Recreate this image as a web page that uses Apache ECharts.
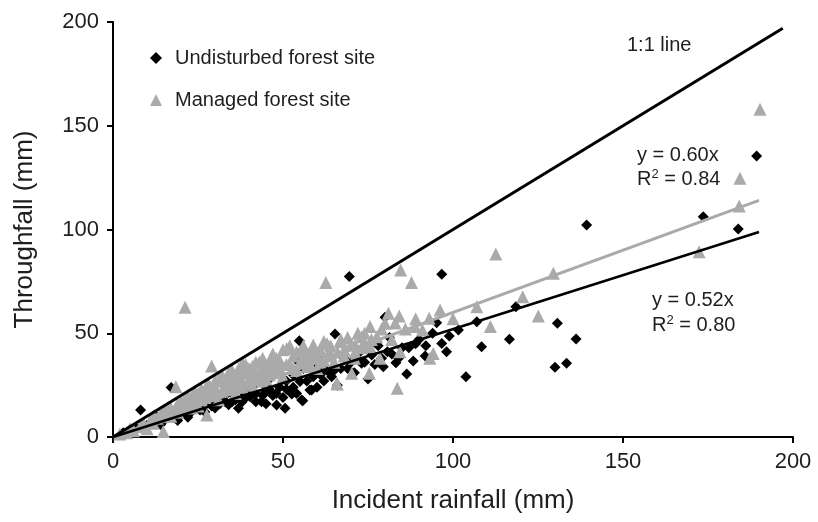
<!DOCTYPE html>
<html>
<head>
<meta charset="utf-8">
<script src="https://cdn.jsdelivr.net/npm/echarts@6/dist/echarts.min.js"></script>
<style>html,body{margin:0;padding:0;background:#fff}#c{width:818px;height:522px}</style>
</head>
<body>
<div id="c"></div>
<script>
var xTicks = [0, 50, 100, 150, 200];
var yTicks = [0, 50, 100, 150, 200];

var undisturbed = [
[8.1,13],[17.1,23.9],[12.9,9.8],[3,2],[5,3.5],[7,4],[10,5.5],[11,7],[14,6],[15,8],[16,9.5],[18,10],[19,8],[20,11],[21,13],[22,9.5],[23,12],[24,14],[25.6,13],[26,16],[27,12],[28,17],[29,15],[30,14],[31.5,16.2],[32,18],[33,20],[34,15.5],[35,21],[36,18],[36.9,13.8],[36.9,30.7],[38,22],[39,19],[40.3,19.4],[41,24],[42,21],[43.7,17],[44,26],[45,22],[46,28],[47,20],[48.1,15.4],[49,24],[50.6,13.8],[51,27],[52.6,20.7],[53,30],[54,37.1],[54.8,46.4],[55,26.7],[55.5,17.8],[55.8,17.5],[56,33],[57.9,22.6],[58.4,22.6],[58.9,29],[59,35],[60.9,37.1],[62,27],[63.8,30.7],[64.3,29],[65.3,49.6],[66,25],[67,33],[68,38],[69.5,77.3],[70,36],[72,40],[73.1,35.5],[75,28],[76.1,39.5],[78,44],[79.5,33.9],[80,57.7],[80.7,41.1],[81.3,48],[83.2,35.8],[85,43],[86.4,30.4],[88.3,36.6],[90,47],[91.8,39],[95.2,55.1],[96.7,45.1],[96.7,78.4],[98.1,41.1],[98.9,48.7],[101.6,51.6],[103.8,29],[107,55.6],[108.4,43.5],[116.6,47.1],[118.5,62.8],[130.7,54.8],[136.2,47.2],[130,33.6],[133.4,35.5],[139.3,102.2],[173.6,106.2],[183.9,100.2],[189.3,135.4],
[30,18],[33,17],[35,17],[38,17],[40,22],[42,17],[44,20],[45,16],[46,23],[48,21],[50,19],[51,23],[53,24],[54,21],[57,27],[60,24],[61,30],[62,33],[65,32],[69,33],[71,31],[74,36],[77,35],[79,38],[82,40],[84,38],[87,43],[89,45],[92,44],[94,50]
];

var managed = [
[2,1.5],[4,2],[5,4],[6,3],[8,5],[9,6.5],[10,4],[11,8],[11.9,6.6],[13,9],[14,11],[14.8,2.6],[15,13],[16,10],[17,14],[18,12],[18.5,24.2],[18.7,13],[19,16],[20,14],[21.2,62.5],[21,18],[22,15],[23,19],[24,17],[25,21],[25.6,18.6],[26,23],[27,19],[27.6,24.6],[27.6,10.6],[28,26],[29,34.2],[29,21],[30,24],[31,28],[32,22],[33,27],[33.4,28.3],[34,31],[35,25],[36,29],[37,33],[38,27],[38.1,35.5],[39,31],[40,28],[41,34],[42,30],[43,36],[44,32],[45,28],[46,35],[46.2,37.1],[47,31],[48,38],[49,33],[50,29],[51.1,42.7],[52,35],[53,39],[54,32],[55,41],[56,37],[56.5,41.1],[57,34],[58,40],[58.9,44.3],[59,38],[60,33],[61,42],[62,37],[62.6,74.4],[63,45],[64,40],[65,36],[65.8,25.9],[66,25.5],[66.8,45.9],[68,42],[69,48],[70.2,30.7],[71.2,44.3],[71.2,41],[72,50],[73.1,48.3],[74,45],[75.4,30.7],[75.6,53.2],[75.6,43.5],[77.6,48.3],[78.5,37.9],[80,54.8],[81,59.6],[82,47],[83.6,23.5],[84.2,58.3],[84.4,41.1],[84.6,80.5],[86,52],[87.8,74.4],[88.8,53.2],[91,51.6],[93,57.2],[93.2,37.9],[94.2,40.3],[96.2,61.2],[100,57],[107,62.8],[111,53.2],[112.6,88.2],[120.5,67.6],[125.1,58.3],[129.5,78.9],[172.4,89.3],[184.2,111.3],[184.4,124.7],[190.3,157.9],
[12,10],[16,14],[20,17],[22,20],[24,22],[26,18],[28,22],[30,27],[30,20],[32,30],[34,26],[35,32],[36,24],[37,28],[38,32],[39,35],[40,33],[41,29],[42,36],[43,31],[44,38],[45,34],[46,30],[47,40],[48,34],[49,37],[50,42],[51,35],[52,44],[53,33],[54,41],[55,36],[56,44],[57,39],[58,35],[59,43],[60,40],[61,36],[62,46],[63,39],[64,44],[66,41],[67,47],[68,39],[70,45],[71,38],[73,43],[74,50],[76,47],[79,52],[83,55],[89,57],[44,27],[38,24],[33,23],[27,21],[23,14],[19,12],[17,10],[25,15],[31,18],[36,21],[41,25]
];

var oneToOne = [[0,0],[197,197]];
var fitManaged = [[0,0],[190,114]];
var fitUndisturbed = [[0,0],[190,98.8]];

var FONT = '"Liberation Sans", Arial, sans-serif';
var TXT = '#1e1e1e';
var chart = echarts.init(document.getElementById('c'), null, {renderer:'canvas'});
var axisCommon = {
  type:'value', min:0, max:200, interval:50,
  axisLine:{show:true, lineStyle:{color:'#000', width:2}},
  axisTick:{show:true, inside:false, length:6, lineStyle:{color:'#000', width:2}},
  splitLine:{show:false},
  nameLocation:'middle',
  nameTextStyle:{color:TXT, fontSize:26, fontFamily:FONT}
};
chart.setOption({
  animation:false,
  backgroundColor:'#fff',
  grid:{left:113, right:25, top:22, bottom:85, containLabel:false},
  xAxis: Object.assign({}, axisCommon, {name:'Incident rainfall (mm)', nameGap:51, axisLabel:{color:TXT, fontSize:22, fontFamily:FONT, margin:14}}),
  yAxis: Object.assign({}, axisCommon, {name:'Throughfall (mm)', nameGap:75, axisLabel:{color:TXT, fontSize:22, fontFamily:FONT, margin:14}}),
  legend:{
    orient:'vertical', left:145, top:43, itemGap:22, itemWidth:12, itemHeight:12,
    textStyle:{color:TXT, fontSize:20, fontFamily:FONT, padding:[0,0,0,8]},
    data:[
      {name:'Undisturbed forest site', icon:'diamond', itemStyle:{color:'#000'}},
      {name:'Managed forest site', icon:'triangle', itemStyle:{color:'#aaa'}}
    ]
  },
  series:[
    {name:'Undisturbed forest site', type:'scatter', symbol:'diamond', symbolSize:11, itemStyle:{color:'#000', opacity:1}, data:undisturbed, z:2},
    {name:'Managed forest site', type:'scatter', symbol:'triangle', symbolSize:13, itemStyle:{color:'#aaa', opacity:1}, data:managed, z:3},
    {type:'line', data:fitManaged, showSymbol:false, symbol:'none', lineStyle:{color:'#aaa', width:3}, z:4, silent:true},
    {type:'line', data:fitUndisturbed, showSymbol:false, symbol:'none', lineStyle:{color:'#000', width:2.5}, z:5, silent:true},
    {type:'line', data:oneToOne, showSymbol:false, symbol:'none', lineStyle:{color:'#000', width:3}, z:5, silent:true}
  ],
  graphic:[
    {type:'text', left:627, top:35, style:{text:'1:1 line', fill:TXT, font:'20px ' + FONT}},
    {type:'text', left:637, top:145, style:{text:'y = 0.60x', fill:TXT, font:'20px ' + FONT}},
    {type:'text', left:637, top:168, style:{rich:{a:{fill:TXT, font:'20px ' + FONT}, s:{fill:TXT, font:'13px ' + FONT, verticalAlign:'top', padding:[0,0,9,0]}}, text:'{a|R}{s|2}{a| = 0.84}'}},
    {type:'text', left:652, top:290, style:{text:'y = 0.52x', fill:TXT, font:'20px ' + FONT}},
    {type:'text', left:652, top:314, style:{rich:{a:{fill:TXT, font:'20px ' + FONT}, s:{fill:TXT, font:'13px ' + FONT, verticalAlign:'top', padding:[0,0,9,0]}}, text:'{a|R}{s|2}{a| = 0.80}'}}
  ]
});
</script>
</body>
</html>
